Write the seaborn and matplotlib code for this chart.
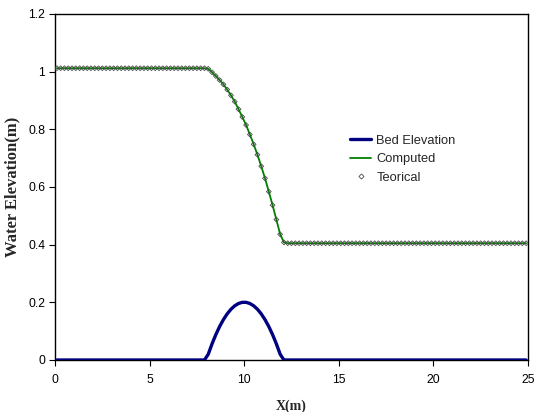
import numpy as np
import pandas as pd
import matplotlib
matplotlib.use("Agg")
import matplotlib.pyplot as plt
import seaborn as sns
from matplotlib.lines import Line2D

# ---- data ----
# cell-centre grid, 0.1 .. 24.9 m, dx = 0.2 m
x_grid = np.round(np.arange(0.1, 25.0, 0.2), 1)

bed_bump = [0.020, 0.056, 0.088, 0.116, 0.140, 0.160, 0.176, 0.188, 0.196, 0.200,
            0.200, 0.196, 0.188, 0.176, 0.160, 0.140, 0.116, 0.088, 0.056, 0.020]
bed_elevation = [0.0] * 40 + bed_bump + [0.0] * 65

water_transition = [1.010, 0.998, 0.985, 0.971, 0.956, 0.938, 0.918, 0.896, 0.870, 0.843,
                    0.815, 0.782, 0.748, 0.712, 0.672, 0.630, 0.584, 0.537, 0.487, 0.436, 0.408]
computed = [1.012] * 40 + water_transition + [0.405] * 64
teorical = [1.012] * 40 + water_transition + [0.405] * 64

x_ticks = [0, 5, 10, 15, 20, 25]
y_ticks = [0, 0.2, 0.4, 0.6, 0.8, 1.0, 1.2]
y_tick_labels = ["0", "0.2", "0.4", "0.6", "0.8", "1", "1.2"]

df = pd.DataFrame({"x": x_grid, "bed": bed_elevation,
                   "computed": computed, "teorical": teorical})

# ---- plot ----
sns.set_style("white")
plt.rcParams["font.family"] = ["Liberation Sans", "DejaVu Sans"]

fig = plt.figure(figsize=(5.36, 4.12), dpi=100)
ax = fig.add_axes([55 / 536, 1 - 360 / 412, (528 - 55) / 536, (360 - 14) / 412])

navy = "#000080"
green = "#008000"

sns.lineplot(data=df, x="x", y="bed", ax=ax, color=navy, lw=2.4, zorder=3)
sns.lineplot(data=df, x="x", y="computed", ax=ax, color=green, lw=1.3, zorder=4)
sns.scatterplot(data=df, x="x", y="teorical", ax=ax, marker="D", s=6,
                facecolor="none", edgecolor="#4a4a4a", linewidth=0.6, zorder=5)

ax.set_xlim(0, 25)
ax.set_ylim(0, 1.2)
ax.set_xticks(x_ticks)
ax.set_xticklabels([str(v) for v in x_ticks])
ax.set_yticks(y_ticks)
ax.set_yticklabels(y_tick_labels)
ax.tick_params(axis="both", direction="out", length=4, width=0.8, labelsize=8.7,
               colors="black", bottom=True, left=True, pad=3)
ax.tick_params(axis="x", pad=6)
for sp in ax.spines.values():
    sp.set_visible(True)
    sp.set_color("black")
    sp.set_linewidth(1.0)

ax.set_xlabel("X(m)", family=["Liberation Serif", "DejaVu Serif"], fontweight="bold",
              fontsize=10, labelpad=10)
ax.set_ylabel("Water Elevation(m)", family=["Liberation Serif", "DejaVu Serif"],
              fontweight="bold", fontsize=12, labelpad=6)

handles = [Line2D([], [], color=navy, lw=2.4),
           Line2D([], [], color=green, lw=1.3),
           Line2D([], [], ls="none", marker="D", ms=2.6, mfc="none", mec="#4a4a4a", mew=0.6)]
ax.legend(handles, ["Bed Elevation", "Computed", "Teorical"], frameon=False,
          loc="upper left", bbox_to_anchor=(0.6, 0.685), fontsize=9.3,
          handlelength=1.6, handletextpad=0.4, labelspacing=0.5)

fig.savefig("out.png", dpi=100)
